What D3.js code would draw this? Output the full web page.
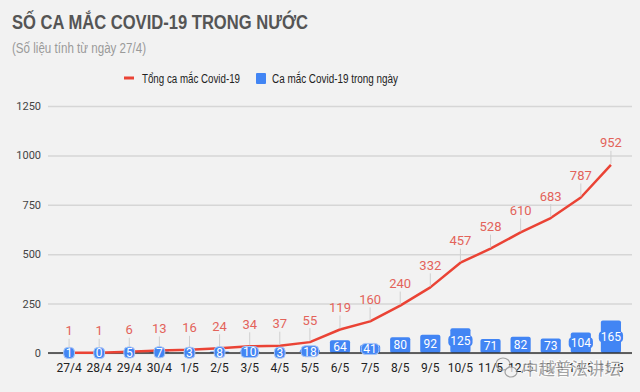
<!DOCTYPE html>
<html><head><meta charset="utf-8">
<script src="https://cdn.jsdelivr.net/npm/d3@7"></script>
<style>
html,body{margin:0;padding:0;background:#f2f2f2;}
svg{display:block;}
</style></head>
<body><svg id="c" width="640" height="392"></svg>
<script>
const categories = ["27/4","28/4","29/4","30/4","1/5","2/5","3/5","4/5","5/5","6/5","7/5","8/5","9/5","10/5","11/5","12/5","13/5","14/5","15/5"];
const totalCases = [1,1,6,13,16,24,34,37,55,119,160,240,332,457,528,610,683,787,952];
const dailyCases = [1,0,5,7,3,8,10,3,18,64,41,80,92,125,71,82,73,104,165];
const yTicks = [0,250,500,750,1000,1250];
const seriesNames = ["Tổng ca mắc Covid-19","Ca mắc Covid-19 trong ngày"];
const titleText = "SỐ CA MẮC COVID-19 TRONG NƯỚC";
const subtitleText = "(Số liệu tính từ ngày 27/4)";
const watermarkText = "中越普法讲坛";

const RED = "#ea4335", RED_LABEL = "#e3635a", BLUE = "#4285f4";
const sans = "'Liberation Sans',Arial,sans-serif";
const num = "Roboto,'Liberation Sans',Arial,sans-serif";

const svg = d3.select("#c");
svg.append("rect").attr("width",640).attr("height",392).attr("fill","#f2f2f2");

svg.append("text").attr("x",12).attr("y",28.5).text(titleText)
  .attr("textLength",296).attr("lengthAdjust","spacingAndGlyphs")
  .attr("font-family",sans).attr("font-weight","bold").attr("font-size",19.5).attr("fill","#555");
svg.append("text").attr("x",12).attr("y",53).text(subtitleText)
  .attr("textLength",134).attr("lengthAdjust","spacingAndGlyphs")
  .attr("font-family",sans).attr("font-size",14).attr("fill","#9a9a9a");

// legend
const lg = svg.append("g").attr("font-family",sans).attr("font-size",12.5).attr("fill","#222");
lg.append("rect").attr("x",124).attr("y",76.5).attr("width",10).attr("height",3).attr("fill",RED);
lg.append("text").attr("x",142).attr("y",83).text(seriesNames[0]).attr("textLength",98).attr("lengthAdjust","spacingAndGlyphs");
lg.append("rect").attr("x",256).attr("y",73).attr("width",10).attr("height",11).attr("rx",1).attr("fill",BLUE);
lg.append("text").attr("x",272).attr("y",83).text(seriesNames[1]).attr("textLength",126).attr("lengthAdjust","spacingAndGlyphs");

const x = d3.scaleBand().domain(categories).range([48,632]).paddingInner(0.33).paddingOuter(0.365);
const y = d3.scaleLinear().domain([0,1250]).range([353,106]);

// grid
const yAxis = d3.axisLeft(y).tickValues(yTicks).tickFormat(d3.format("d")).tickSize(-584).tickPadding(7);
const gy = svg.append("g").attr("transform","translate(48,0)").call(yAxis);
gy.select(".domain").remove();
gy.selectAll(".tick line").attr("stroke","#d6d6d6").attr("stroke-width",1.5);
gy.selectAll(".tick text").attr("font-family",num).attr("font-size",11).attr("fill","#444");

// bars
const cx = d => x(d) + x.bandwidth()/2;
svg.append("g").selectAll("rect").data(categories).join("rect")
  .attr("x",d=>x(d)).attr("width",x.bandwidth())
  .attr("y",(d,i)=>y(dailyCases[i])).attr("height",(d,i)=>y(0)-y(dailyCases[i]))
  .attr("rx",2).attr("fill",BLUE);

// x axis
const xAxis = d3.axisBottom(x).tickSize(0).tickPadding(10);
const gx = svg.append("g").attr("transform",`translate(0,${y(0)})`).call(xAxis);
gx.select(".domain").remove();
gx.selectAll(".tick text").attr("font-family",num).attr("font-size",12).attr("fill","#222");
svg.append("line").attr("x1",48).attr("x2",632).attr("y1",y(0)).attr("y2",y(0)).attr("stroke","#333").attr("stroke-width",1.5);

// line
const line = d3.line().x((d,i)=>cx(categories[i])).y(d=>y(d));
svg.append("path").datum(totalCases).attr("d",line).attr("fill","none")
  .attr("stroke",RED).attr("stroke-width",2.5).attr("stroke-linejoin","round");

// leader lines + labels
svg.append("g").selectAll("line").data(totalCases).join("line")
  .attr("x1",(d,i)=>cx(categories[i])).attr("x2",(d,i)=>cx(categories[i]))
  .attr("y1",d=>y(d)-14).attr("y2",d=>y(d)-1).attr("stroke","#cfcfcf").attr("stroke-width",1);
svg.append("g").selectAll("text").data(totalCases).join("text")
  .attr("x",(d,i)=>cx(categories[i])).attr("y",d=>y(d)-17.5).attr("text-anchor","middle")
  .attr("font-family",num).attr("font-size",13).attr("fill",RED_LABEL).text(d=>d);

// bar labels (pills)
const bl = svg.append("g");
dailyCases.forEach((v,i)=>{
  const c = cx(categories[i]);
  const top = y(v), bottom = y(0);
  const mid = (top+bottom)/2;
  const g = bl.append("g");
  const r = g.append("rect");
  const t = g.append("text").attr("x",c).attr("y",mid+4.3).attr("text-anchor","middle")
    .attr("font-family",num).attr("font-size",12).attr("fill","#fff").text(v);
  const w = t.node().getComputedTextLength();
  const pw = Math.max(w+4, 10), ph = 11;
  if (bottom-top < ph || pw > x.bandwidth()) {
    r.attr("x",c-pw/2).attr("y",mid-ph/2).attr("width",pw).attr("height",ph).attr("rx",4)
     .attr("fill",BLUE).attr("stroke", bottom-top < ph ? "#a9c6f7" : "none").attr("stroke-width",1);
  } else r.remove();
});

// watermark (overlays the last axis labels, as in the reference)
const wm = svg.append("g").attr("opacity",0.75);
wm.append("ellipse").attr("cx",503).attr("cy",364).attr("rx",7).attr("ry",6).attr("fill","none").attr("stroke","#888").attr("stroke-width",1.2);
wm.append("ellipse").attr("cx",511).attr("cy",372).attr("rx",6).attr("ry",5).attr("fill","#f2f2f2").attr("stroke","#888").attr("stroke-width",1.2);
wm.append("text").attr("x",522).attr("y",375).text(watermarkText)
  .attr("font-family","'Noto Sans CJK SC',sans-serif").attr("font-size",16.5)
  .attr("fill","#8a8a8a").attr("stroke","#ffffff").attr("stroke-width",2).attr("paint-order","stroke");
</script></body></html>
